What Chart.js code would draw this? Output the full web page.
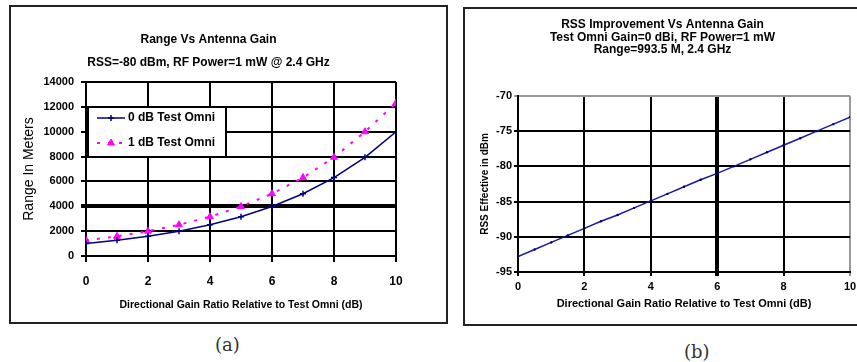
<!DOCTYPE html>
<html>
<head>
<meta charset="utf-8">
<title>Range and RSS vs antenna gain</title>
<script src="https://cdn.jsdelivr.net/npm/chart.js@4.4.1/dist/chart.umd.min.js"></script>
<style>
  html, body { margin: 0; padding: 0; background: #fff; overflow: hidden; }
  body { width: 857px; height: 362px; position: relative; }
  .panel { position: absolute; border: 2px solid #222; }
  #panel-a { left: 9px; top: 5px; width: 435px; height: 315px; }
  #panel-b { left: 463px; top: 7px; width: 420px; height: 315px; }
  .panel canvas { display: block; }
  .caption { position: absolute; font-family: "DejaVu Serif", "Liberation Serif", serif; font-size: 18px; color: #333; }
</style>
</head>
<body>
<div class="panel" id="panel-a"><canvas id="chartA" width="435" height="315"></canvas></div>
<div class="panel" id="panel-b"><canvas id="chartB" width="420" height="315"></canvas></div>
<div class="caption" style="left:215px; top:334px;">(a)</div>
<div class="caption" style="left:684px; top:341px;">(b)</div>

<script>
// chart (a): range vs directional gain
const gainDb = [0, 1, 2, 3, 4, 5, 6, 7, 8, 9, 10];
const rangeOmni0 = [1000, 1260, 1580, 2000, 2510, 3160, 3980, 5010, 6310, 7940, 10000];
const rangeOmni1 = [1260, 1580, 2000, 2510, 3160, 3980, 5010, 6310, 7940, 10000, 12300];
const gainTicks = [0, 2, 4, 6, 8, 10];
const rangeTicks = [0, 2000, 4000, 6000, 8000, 10000, 12000, 14000];

// chart (b): effective RSS vs directional gain
const gainFine = [0, 0.5, 1, 1.5, 2, 2.5, 3, 3.5, 4, 4.5, 5, 5.5, 6, 6.5, 7, 7.5, 8, 8.5, 9, 9.5, 10];
const rssEffective = [-92.8, -91.8, -90.8, -89.8, -88.8, -87.8, -86.9, -85.9, -84.9, -83.9, -82.9,
  -81.9, -81.0, -80.0, -79.0, -78.0, -77.0, -76.0, -75.0, -74.0, -73.0];
const rssTicks = [-95, -90, -85, -80, -75, -70];

const FONT = 'Liberation Sans, Arial, sans-serif';
Chart.defaults.font.family = FONT;
Chart.defaults.color = '#000';

const toPoints = (xs, ys) => xs.map((x, i) => ({ x: x, y: ys[i] }));
const setTicks = list => scale => { scale.ticks = list.map(v => ({ value: v })); };

// legend drawn as a boxed overlay inside the plot, like the original
const boxLegend = {
  id: 'boxLegend',
  afterDraw(chart, args, opts) {
    if (!opts.show) return;
    const ctx = chart.ctx;
    ctx.save();
    ctx.fillStyle = '#fff';
    ctx.strokeStyle = '#000';
    ctx.lineWidth = 2;
    ctx.fillRect(opts.x, opts.y, opts.width, opts.height);
    ctx.strokeRect(opts.x, opts.y, opts.width, opts.height);

    chart.data.datasets.forEach((ds, i) => {
      const y = opts.y + opts.firstRow + i * opts.rowGap;
      const x0 = opts.x + 9;
      const x1 = x0 + 28;
      ctx.strokeStyle = ds.borderColor;
      ctx.lineWidth = ds.borderWidth;
      ctx.setLineDash(ds.borderDash || []);
      ctx.beginPath();
      ctx.moveTo(x0, y);
      ctx.lineTo(x1, y);
      ctx.stroke();
      ctx.setLineDash([]);

      ctx.fillStyle = ds.pointBackgroundColor;
      ctx.strokeStyle = ds.borderColor;
      ctx.lineWidth = ds.pointBorderWidth;
      Chart.helpers.drawPoint(ctx, { pointStyle: ds.pointStyle, radius: ds.pointRadius, borderWidth: ds.pointBorderWidth }, (x0 + x1) / 2, y);

      ctx.fillStyle = '#000';
      ctx.font = 'bold 12px ' + FONT;
      ctx.textBaseline = 'middle';
      ctx.fillText(ds.label, x1 + 3, y);
    });
    ctx.restore();
  }
};

new Chart(document.getElementById('chartA'), {
  type: 'line',
  data: {
    datasets: [{
      label: '0 dB Test Omni',
      data: toPoints(gainDb, rangeOmni0),
      borderColor: '#000080',
      borderWidth: 1.5,
      pointStyle: 'cross',
      pointRadius: 3,
      pointBorderWidth: 1.5,
      pointBackgroundColor: '#000080'
    }, {
      label: '1 dB Test Omni',
      data: toPoints(gainDb, rangeOmni1),
      borderColor: '#ff00ff',
      borderWidth: 2,
      borderDash: [3, 8],
      pointStyle: 'triangle',
      pointRadius: 4,
      pointBorderWidth: 1,
      pointBackgroundColor: '#ff00ff'
    }]
  },
  options: {
    responsive: false,
    animation: false,
    devicePixelRatio: 1,
    layout: { padding: { top: 0, left: 10, right: 50, bottom: 10 } },
    plugins: {
      legend: { display: false },
      tooltip: { enabled: false },
      title: {
        display: true,
        text: ['Range Vs Antenna Gain', 'RSS=-80 dBm, RF Power=1 mW @ 2.4 GHz'],
        color: '#000',
        font: { size: 12, weight: 'bold', lineHeight: 1.9 },
        padding: { top: 21.6, bottom: 7.8 }
      },
      boxLegend: { show: true, x: 77, y: 100, width: 138, height: 50, firstRow: 11, rowGap: 25 }
    },
    scales: {
      x: {
        type: 'linear',
        min: 0,
        max: 10,
        afterBuildTicks: setTicks(gainTicks),
        afterFit: s => { s.height = 56; },
        grid: { color: '#000', lineWidth: 2, tickLength: 6 },
        border: { color: '#000', width: 2 },
        ticks: { font: { size: 12, weight: 'bold' }, padding: 12, maxRotation: 0 },
        title: {
          display: true,
          text: 'Directional Gain Ratio Relative to Test Omni (dB)',
          font: { size: 10.5, weight: 'bold' },
          padding: { top: 0, bottom: 1 }
        }
      },
      y: {
        min: 0,
        max: 14000,
        afterBuildTicks: setTicks(rangeTicks),
        afterFit: s => { s.width = 65; },
        grid: {
          color: '#000',
          lineWidth: c => (c.tick && c.tick.value === 4000 ? 4 : 2),
          tickLength: 5
        },
        border: { color: '#000', width: 2 },
        ticks: { font: { size: 11, weight: 'bold' }, padding: 7, callback: v => String(v) },
        title: {
          display: true,
          text: 'Range In Meters',
          font: { size: 14, weight: 'normal' },
          padding: { top: 0, bottom: 0 }
        }
      }
    }
  },
  plugins: [boxLegend]
});

new Chart(document.getElementById('chartB'), {
  type: 'line',
  data: {
    datasets: [{
      label: 'RSS Effective',
      data: toPoints(gainFine, rssEffective),
      borderColor: '#1a1aa0',
      borderWidth: 1.5,
      pointRadius: 1.2,
      pointBorderWidth: 0,
      pointBackgroundColor: '#000070'
    }]
  },
  options: {
    responsive: false,
    animation: false,
    devicePixelRatio: 1,
    layout: { padding: { top: 0, left: 10, right: 35, bottom: 10 } },
    plugins: {
      legend: { display: false },
      tooltip: { enabled: false },
      title: {
        display: true,
        text: ['RSS Improvement Vs Antenna Gain', 'Test Omni Gain=0 dBi, RF Power=1 mW', 'Range=993.5 M, 2.4 GHz'],
        color: '#000',
        font: { size: 12, weight: 'bold', lineHeight: 1.04 },
        padding: { top: 9.75, bottom: 39.75 }
      }
    },
    scales: {
      x: {
        type: 'linear',
        min: 0,
        max: 10,
        afterBuildTicks: setTicks(gainTicks),
        afterFit: s => { s.height = 42; },
        grid: {
          color: c => (c.tick && c.tick.value === 10 ? '#999' : '#000'),
          lineWidth: c => (c.tick && c.tick.value === 6 ? 4 : 2),
          tickLength: 4
        },
        border: { color: '#000', width: 2 },
        ticks: { font: { size: 11, weight: 'bold' }, padding: 4, maxRotation: 0 },
        title: {
          display: true,
          text: 'Directional Gain Ratio Relative to Test Omni (dB)',
          font: { size: 11, weight: 'bold' },
          padding: { top: 0, bottom: 3 }
        }
      },
      y: {
        min: -95,
        max: -70,
        afterBuildTicks: setTicks(rssTicks),
        afterFit: s => { s.width = 43; },
        grid: {
          color: c => (c.tick && c.tick.value === -70 ? '#999' : '#000'),
          lineWidth: 2,
          tickLength: 4
        },
        border: { color: '#000', width: 2 },
        ticks: { font: { size: 11, weight: 'bold' }, padding: 2 },
        title: {
          display: true,
          text: 'RSS Effective in dBm',
          font: { size: 10, weight: 'bold' },
          padding: { top: 4, bottom: 0 }
        }
      }
    }
  }
});
</script>
</body>
</html>
